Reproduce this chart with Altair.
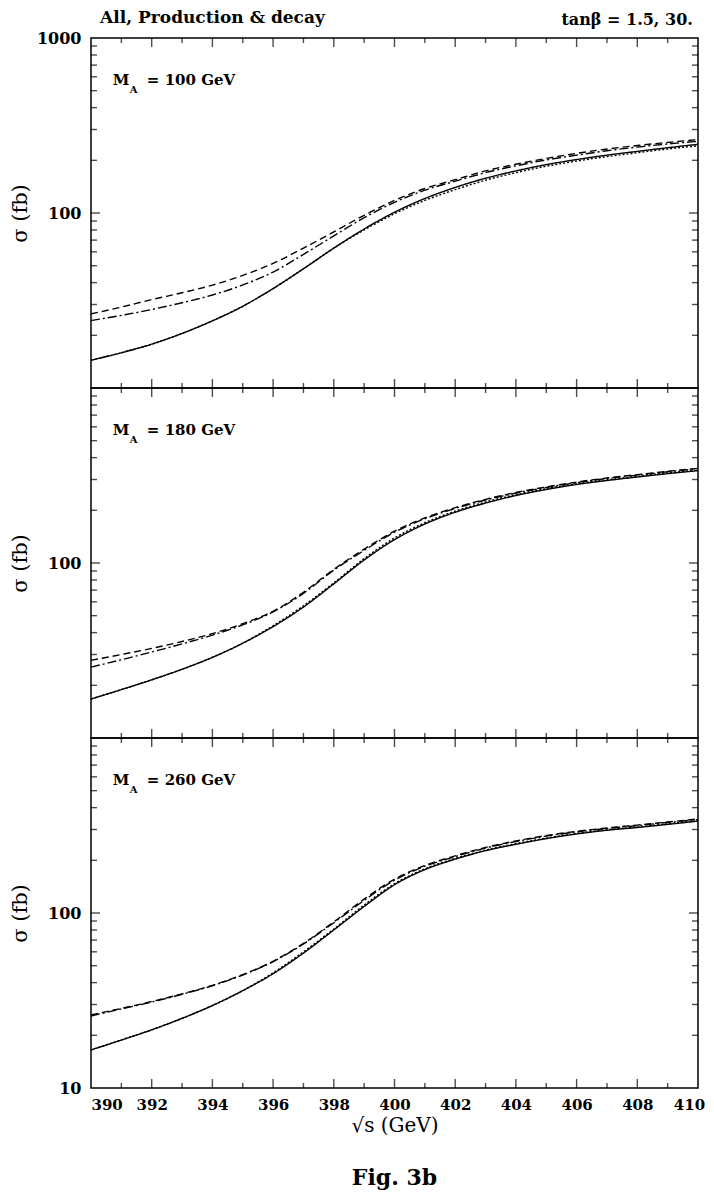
import altair as alt
import pandas as pd

# ---------------- data ----------------
S = [390, 391, 392, 393, 394, 395, 396, 397, 398, 399, 400,
     401, 402, 403, 404, 405, 406, 407, 408, 409, 410]

CURVES = ["solid", "dashed", "dashdot", "dotted"]

# M_A = 100 GeV
MA100_SOLID = [14.4, 15.9, 17.8, 20.5, 24.2, 29.3, 37, 48, 63, 81, 101,
               121, 140, 158, 174, 189, 202, 214, 225, 236, 247]
MA100_DASHED = [26.5, 29, 32, 35, 38.7, 44, 51.5, 63, 78, 97, 118,
                138, 155, 174, 190, 205, 219, 232, 243, 253, 263]
MA100_DASHDOT = [24.3, 26, 28.1, 30.7, 34, 38.8, 46, 58, 74, 94, 115,
                 135, 152, 170, 186, 201, 214, 227, 238, 248, 257]
MA100_DOTTED = [14.4, 15.9, 17.8, 20.5, 24.2, 29.3, 37, 48, 63, 80, 99,
                118, 136, 154, 170, 185, 198, 210, 221, 232, 242]

# M_A = 180 GeV
MA180_SOLID = [16.7, 18.9, 21.5, 24.7, 28.9, 34.8, 43.3, 56, 76, 104, 136,
               167, 195, 220, 243, 263, 281, 296, 310, 324, 337]
MA180_DASHED = [27.8, 30, 32.5, 35.6, 39.5, 45, 53, 68, 92, 120, 152,
                181, 207, 231, 253, 272, 290, 306, 320, 334, 348]
MA180_DASHDOT = [25.4, 28, 31, 34.5, 38.7, 44.3, 52.5, 67, 91, 118, 150,
                 179, 205, 229, 251, 270, 288, 304, 318, 332, 346]
MA180_DOTTED = [16.7, 18.9, 21.5, 24.7, 28.9, 34.8, 43.8, 57, 77, 106, 139,
                170, 198, 223, 246, 266, 284, 299, 313, 327, 340]

# M_A = 260 GeV
MA260_SOLID = [16.5, 18.8, 21.5, 25, 29.6, 36, 45, 59, 80, 109, 145,
               177, 203, 227, 247, 266, 283, 297, 308, 321, 335]
MA260_DASHED = [26.2, 28.5, 31.2, 34.5, 38.6, 44.5, 53, 67, 89, 120, 156,
                187, 212, 237, 258, 277, 293, 306, 318, 331, 345]
MA260_DASHDOT = [25.8, 28.3, 31, 34.3, 38.4, 44.2, 52.7, 66.5, 88, 118, 154,
                 185, 210, 235, 256, 275, 291, 304, 316, 329, 342]
MA260_DOTTED = [16.5, 18.8, 21.5, 25, 29.6, 36, 45.5, 60, 81, 111, 147,
                179, 205, 229, 249, 268, 285, 299, 310, 323, 337]

MASSES = [100, 180, 260]
Y_LABELS = [[1000, 100], [100], [100, 10]]
X_LABELS = [390, 392, 394, 396, 398, 400, 402, 404, 406, 408, 410]
X_MAJOR = [392, 394, 396, 398, 400, 402, 404, 406, 408]
X_MINOR = [391, 393, 395, 397, 399, 401, 403, 405, 407, 409]
Y_MAJOR = [100]
Y_MINOR = [20, 30, 40, 50, 60, 70, 80, 90, 200, 300, 400, 500, 600, 700, 800, 900]

HEADER_LEFT = "All, Production & decay"
HEADER_RIGHT = "tanβ = 1.5, 30."
CAPTION = "Fig. 3b"

# ---------------- styling ----------------
W, H = 607, 350
FONT = "DejaVu Serif"
DASHES = [[1, 0], [7, 4], [9, 3, 2, 3], [2, 2]]
xscale = alt.Scale(domain=[390, 410], nice=False, zero=False)
yscale = alt.Scale(type="log", domain=[10, 1000], nice=False)


def long_df(series):
    rows = []
    for name, vals in zip(CURVES, series):
        for s, v in zip(S, vals):
            rows.append({"s": s, "sigma": v, "curve": name})
    return pd.DataFrame(rows)


def make_axes(ylabels, bottom):
    if bottom:
        xaxis = alt.Axis(
            values=X_LABELS, format="d", ticks=False, domain=False, grid=False,
            labelFont=FONT, labelFontWeight="bold", labelFontSize=15, labelPadding=9,
            labelColor="black",
            labelAlign={"condition": {"test": "datum.value == 390", "value": "left"}, "value": "center"},
            labelOffset={"condition": {"test": "datum.value == 410", "value": -9}, "value": 0},
            title="√s (GeV)", titleFont=FONT, titleFontSize=20, titleFontWeight="normal",
            titleColor="black", titlePadding=3,
        )
    else:
        xaxis = None
    yaxis = alt.Axis(
        values=ylabels, format="d", ticks=False, domain=False, grid=False,
        labelFont=FONT, labelFontWeight="bold", labelFontSize=16, labelPadding=10,
        labelColor="black",
        title="σ (fb)", titleFont=FONT, titleFontSize=21, titleFontWeight="normal",
        titleColor="black", titlePadding=11, minExtent=50, maxExtent=50,
    )
    return xaxis, yaxis


def edge_ticks(values, side, length, xaxis, yaxis):
    df = pd.DataFrame({"v": values})
    if side in ("left", "right"):
        off = length / 2 if side == "left" else -length / 2
        return alt.Chart(df).mark_tick(
            orient="horizontal", size=length, thickness=1.4, color="black", xOffset=off
        ).encode(
            x=alt.XDatum(390 if side == "left" else 410, type="quantitative", scale=xscale, axis=xaxis),
            y=alt.Y("v:Q", scale=yscale, axis=yaxis),
        )
    off = length / 2 if side == "top" else -length / 2
    return alt.Chart(df).mark_tick(
        orient="vertical", size=length, thickness=1.4, color="black", yOffset=off
    ).encode(
        x=alt.X("v:Q", scale=xscale, axis=xaxis),
        y=alt.YDatum(1000 if side == "top" else 10, type="quantitative", scale=yscale, axis=yaxis),
    )


def text_at(txt, sx, sy, size, xaxis, dx=0, dy=0, align="left", weight="bold"):
    return alt.Chart(pd.DataFrame({"t": [txt]})).mark_text(
        align=align, baseline="middle", font=FONT, fontSize=size, fontWeight=weight,
        color="black", dx=dx, dy=dy
    ).encode(
        x=alt.XDatum(sx, type="quantitative", scale=xscale, axis=xaxis),
        y=sy,
        text="t:N",
    )


def panel(series, mass, ylabels, bottom, top):
    df = long_df(series)
    xaxis, yaxis = make_axes(ylabels, bottom)
    lines = alt.Chart(df).mark_line(color="black", strokeWidth=1.4, interpolate="monotone").encode(
        x=alt.X("s:Q", scale=xscale, axis=xaxis),
        y=alt.Y("sigma:Q", scale=yscale, axis=yaxis),
        strokeDash=alt.StrokeDash("curve:N", scale=alt.Scale(domain=CURVES, range=DASHES), legend=None),
        detail="curve:N",
    )
    layers = [lines]
    for side in ("left", "right"):
        layers.append(edge_ticks(Y_MINOR, side, 6, xaxis, yaxis))
        layers.append(edge_ticks(Y_MAJOR, side, 9, xaxis, yaxis))
    for side in ("top", "bottom"):
        layers.append(edge_ticks(X_MINOR, side, 5, xaxis, yaxis))
        layers.append(edge_ticks(X_MAJOR, side, 9, xaxis, yaxis))
    ylab = alt.YDatum(577, type="quantitative", scale=yscale, axis=yaxis)
    layers.append(text_at("M", 390.72, ylab, 15, xaxis))
    layers.append(text_at("A", 390.72, ylab, 10, xaxis, dx=17, dy=10))
    layers.append(text_at(f"= {mass} GeV", 390.72, ylab, 15, xaxis, dx=34))
    if top:
        layers.append(text_at(HEADER_LEFT, 390.3, alt.value(-20), 17, xaxis))
        layers.append(text_at(HEADER_RIGHT, 409.83, alt.value(-18), 16, xaxis, align="right"))
    if bottom:
        layers.append(text_at(CAPTION, 400, alt.value(H + 90), 22, xaxis, align="center"))
    return alt.layer(*layers).properties(width=W, height=H)


p1 = panel([MA100_SOLID, MA100_DASHED, MA100_DASHDOT, MA100_DOTTED], MASSES[0], Y_LABELS[0], False, True)
p2 = panel([MA180_SOLID, MA180_DASHED, MA180_DASHDOT, MA180_DOTTED], MASSES[1], Y_LABELS[1], False, False)
p3 = panel([MA260_SOLID, MA260_DASHED, MA260_DASHDOT, MA260_DOTTED], MASSES[2], Y_LABELS[2], True, False)

chart = alt.vconcat(p1, p2, p3, spacing=0, bounds="flush").properties(
    padding={"left": 0, "top": 0, "right": 0, "bottom": 0}
).configure_view(stroke="black", strokeWidth=1.5)

chart.save("out.html", embed_options={"renderer": "svg", "actions": False})
